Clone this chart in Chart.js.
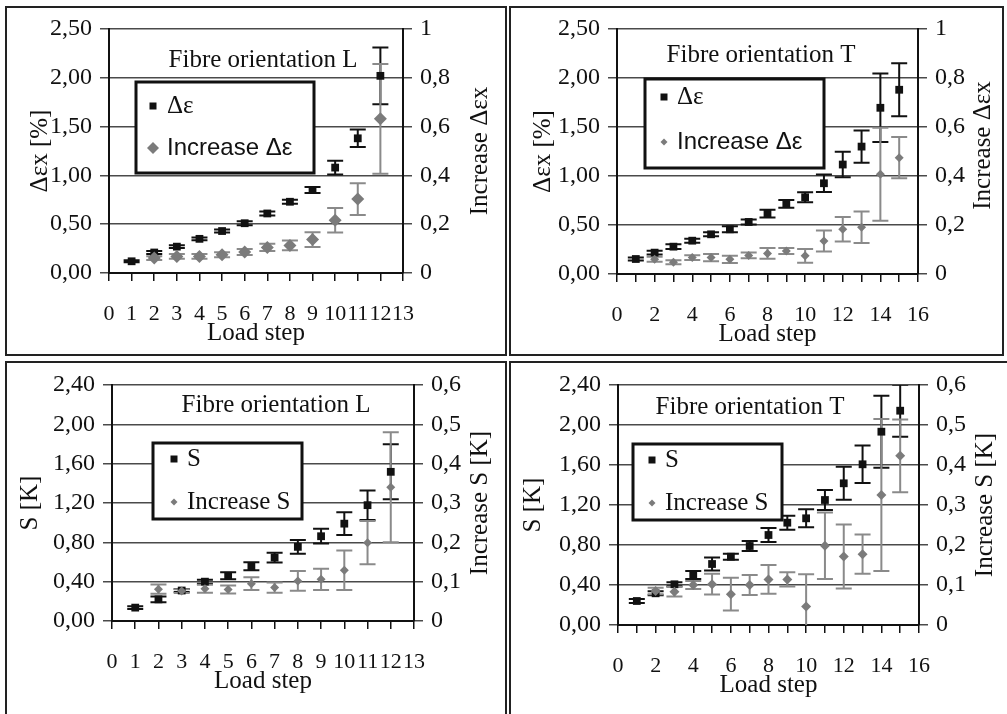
<!DOCTYPE html>
<html>
<head>
<meta charset="utf-8">
<script src="https://cdn.jsdelivr.net/npm/chart.js@4.4.1/dist/chart.umd.min.js"></script>
<style>
  body { margin: 0; background: #fff; width: 1007px; height: 714px; overflow: hidden; position: relative; }
  .frame { position: absolute; border: 2px solid #222; box-sizing: border-box; }
  canvas { position: absolute; }
</style>
</head>
<body>
<div class="frame" style="left:5px;top:6px;width:502px;height:350px"></div>
<div class="frame" style="left:509px;top:6px;width:495px;height:350px"></div>
<div class="frame" style="left:5px;top:361px;width:502px;height:400px"></div>
<div class="frame" style="left:509px;top:361px;width:600px;height:400px"></div>
<canvas id="c1" width="505" height="358" style="left:0;top:0"></canvas>
<canvas id="c2" width="502" height="358" style="left:505px;top:0"></canvas>
<canvas id="c3" width="505" height="356" style="left:0;top:358px"></canvas>
<canvas id="c4" width="502" height="356" style="left:505px;top:358px"></canvas>
<script>
// load steps
const stepsL = [1, 2, 3, 4, 5, 6, 7, 8, 9, 10, 11, 12];
const stepsT = [1, 2, 3, 4, 5, 6, 7, 8, 9, 10, 11, 12, 13, 14, 15];
const incStepsL = [2, 3, 4, 5, 6, 7, 8, 9, 10, 11, 12];
const incStepsT = [2, 3, 4, 5, 6, 7, 8, 9, 10, 11, 12, 13, 14, 15];

// delta eps x, fibre L
const dEpsL    = [0.12, 0.21, 0.27, 0.35, 0.43, 0.51, 0.61, 0.73, 0.85, 1.08, 1.38, 2.02];
const dEpsLErr = [0.01, 0.015, 0.015, 0.015, 0.015, 0.02, 0.02, 0.02, 0.03, 0.07, 0.09, 0.29];
const incDEpsL    = [0.061, 0.068, 0.068, 0.075, 0.086, 0.105, 0.113, 0.137, 0.216, 0.303, 0.632];
const incDEpsLErr = [0.008, 0.01, 0.01, 0.01, 0.012, 0.015, 0.02, 0.03, 0.05, 0.065, 0.225];

// delta eps x, fibre T
const dEpsT    = [0.153, 0.218, 0.279, 0.34, 0.405, 0.456, 0.531, 0.616, 0.715, 0.783, 0.926, 1.117, 1.30, 1.696, 1.88];
const dEpsTErr = [0.015, 0.02, 0.025, 0.02, 0.02, 0.03, 0.025, 0.04, 0.04, 0.05, 0.09, 0.13, 0.165, 0.35, 0.27];
const incDEpsT    = [0.06, 0.048, 0.067, 0.067, 0.06, 0.076, 0.084, 0.094, 0.074, 0.135, 0.183, 0.191, 0.407, 0.475];
const incDEpsTErr = [0.01, 0.008, 0.01, 0.015, 0.015, 0.012, 0.022, 0.012, 0.028, 0.043, 0.05, 0.064, 0.19, 0.084];

// S, fibre L
const sL    = [0.136, 0.22, 0.31, 0.40, 0.46, 0.557, 0.645, 0.754, 0.862, 0.99, 1.178, 1.517];
const sLErr = [0.015, 0.03, 0.015, 0.02, 0.035, 0.04, 0.05, 0.07, 0.075, 0.115, 0.15, 0.28];
const incSL    = [0.081, 0.076, 0.082, 0.08, 0.095, 0.085, 0.102, 0.106, 0.129, 0.199, 0.34];
const incSLErr = [0.012, 0.005, 0.01, 0.01, 0.016, 0.013, 0.025, 0.027, 0.05, 0.055, 0.14];

// S, fibre T
const sT    = [0.24, 0.317, 0.407, 0.50, 0.61, 0.683, 0.79, 0.90, 1.023, 1.067, 1.25, 1.417, 1.607, 1.933, 2.143];
const sTErr = [0.02, 0.02, 0.02, 0.04, 0.065, 0.03, 0.05, 0.07, 0.07, 0.09, 0.10, 0.165, 0.187, 0.36, 0.26];
const incST    = [0.085, 0.083, 0.10, 0.102, 0.077, 0.10, 0.114, 0.114, 0.046, 0.198, 0.171, 0.177, 0.325, 0.423];
const incSTErr = [0.008, 0.012, 0.01, 0.026, 0.041, 0.025, 0.036, 0.018, 0.081, 0.083, 0.08, 0.049, 0.19, 0.091];

const SERIF = "'Liberation Serif', 'Times New Roman', serif";
const SANS = "'Liberation Sans', Arial, sans-serif";
const BLACK = '#111';
const GRAY = '#7b7b7b';

function pts(xs, ys) {
  return xs.map((x, i) => ({ x: x, y: ys[i] }));
}

function blackSet(label, xs, ys, err, font) {
  return {
    label: label, data: pts(xs, ys), err: err, yAxisID: 'y', order: 1,
    pointStyle: 'rect', pointRadius: 5.5, borderWidth: 0,
    backgroundColor: BLACK, borderColor: BLACK, errColor: BLACK,
    legendFont: font, legendSize: 3.5
  };
}

function graySet(label, xs, ys, err, font, r, lr) {
  return {
    label: label, data: pts(xs, ys), err: err, yAxisID: 'y2', order: 0,
    pointStyle: 'rectRot', pointRadius: r, borderWidth: 0,
    backgroundColor: GRAY, borderColor: GRAY, errColor: '#8a8a8a',
    legendFont: font, legendSize: lr
  };
}

// draws the error bars
const errorBars = {
  id: 'errorBars',
  beforeDatasetsDraw(chart) {
    const ctx = chart.ctx, a = chart.chartArea;
    ctx.save();
    ctx.beginPath();
    ctx.rect(a.left, a.top, a.right - a.left, a.bottom - a.top);
    ctx.clip();
    chart.data.datasets.forEach((ds, i) => {
      const meta = chart.getDatasetMeta(i);
      const ys = chart.scales[ds.yAxisID];
      ctx.strokeStyle = ds.errColor;
      ctx.lineWidth = 2;
      meta.data.forEach((p, j) => {
        const v = ds.data[j].y, e = ds.err[j];
        const y1 = ys.getPixelForValue(v + e), y2 = ys.getPixelForValue(v - e);
        const w = 8;
        ctx.beginPath();
        ctx.moveTo(p.x, y1); ctx.lineTo(p.x, y2);
        ctx.moveTo(p.x - w, y1); ctx.lineTo(p.x + w, y1);
        ctx.moveTo(p.x - w, y2); ctx.lineTo(p.x + w, y2);
        ctx.stroke();
      });
    });
    ctx.restore();
  }
};

// titles, axis titles and the boxed legend
const decor = {
  id: 'decor',
  afterDraw(chart, args, o) {
    const ctx = chart.ctx, a = chart.chartArea;
    const midY = (a.top + a.bottom) / 2;
    ctx.save();
    ctx.fillStyle = BLACK;
    ctx.textAlign = 'center';
    ctx.textBaseline = 'middle';
    ctx.font = '25px ' + SERIF;
    ctx.fillText(o.title, a.left + o.titleX, a.top + o.titleY);
    ctx.fillText('Load step', (a.left + a.right) / 2, a.bottom + 60);

    ctx.save();
    ctx.translate(a.left + o.yTitleX, midY);
    ctx.rotate(-Math.PI / 2);
    ctx.fillText(o.yTitle, 0, 0);
    ctx.restore();
    ctx.save();
    ctx.translate(a.right + o.y2TitleX, midY + (o.y2TitleDy || 0));
    ctx.rotate(-Math.PI / 2);
    ctx.fillText(o.y2Title, 0, 0);
    ctx.restore();

    const L = o.legend;
    ctx.fillStyle = '#fff';
    ctx.fillRect(a.left + L.x, a.top + L.y, L.w, L.h);
    ctx.lineWidth = 3;
    ctx.strokeStyle = BLACK;
    ctx.strokeRect(a.left + L.x, a.top + L.y, L.w, L.h);
    chart.data.datasets.forEach((ds, i) => {
      const cx = a.left + L.mx, cy = a.top + L.rows[i], s = ds.legendSize;
      ctx.fillStyle = ds.backgroundColor;
      ctx.beginPath();
      if (ds.pointStyle === 'rect') {
        ctx.rect(cx - s, cy - s, 2 * s, 2 * s);
      } else {
        ctx.moveTo(cx, cy - s); ctx.lineTo(cx + s, cy);
        ctx.lineTo(cx, cy + s); ctx.lineTo(cx - s, cy);
        ctx.closePath();
      }
      ctx.fill();
      ctx.fillStyle = BLACK;
      ctx.textAlign = 'left';
      ctx.font = ds.legendFont;
      ctx.fillText(ds.label, a.left + L.tx, cy);
    });
    ctx.restore();
  }
};

function fmtLeft(v) { return v.toFixed(2).replace('.', ','); }
function fmtRight(v) { return v === 0 ? '0' : String(+v.toFixed(2)).replace('.', ','); }

const panels = [
  {
    id: 'c1', xMax: 13, xEvery: 1, yMax: 2.5, yStep: 0.5, y2Max: 1, y2Step: 0.2,
    pad: { left: 49, right: 42, top: 29, bottom: 25 },
    deco: {
      title: 'Fibre orientation L', titleX: 154, titleY: 31,
      yTitle: 'Δεx [%]', yTitleX: -69, y2Title: 'Increase Δεx', y2TitleX: 77,
      legend: { x: 27, y: 53, w: 178, h: 91, mx: 44, tx: 58, rows: [77, 119] }
    },
    sets: [
      blackSet('Δε', stepsL, dEpsL, dEpsLErr, '25px ' + SERIF),
      graySet('Increase Δε', incStepsL, incDEpsL, incDEpsLErr, '24px ' + SANS, 6.5, 6)
    ]
  },
  {
    id: 'c2', xMax: 16, xEvery: 2, yMax: 2.5, yStep: 0.5, y2Max: 1, y2Step: 0.2,
    pad: { left: 52, right: 29, top: 29, bottom: 24 },
    deco: {
      title: 'Fibre orientation T', titleX: 144, titleY: 26,
      yTitle: 'Δεx [%]', yTitleX: -74, y2Title: 'Increase Δεx', y2TitleX: 65, y2TitleDy: -6,
      legend: { x: 28, y: 50, w: 179, h: 89, mx: 47, tx: 60, rows: [68, 113] }
    },
    sets: [
      blackSet('Δε', stepsT, dEpsT, dEpsTErr, '25px ' + SERIF),
      graySet('Increase Δε', incStepsT, incDEpsT, incDEpsTErr, '24px ' + SANS, 4.5, 3.5)
    ]
  },
  {
    id: 'c3', xMax: 13, xEvery: 1, yMax: 2.4, yStep: 0.4, y2Max: 0.6, y2Step: 0.1,
    pad: { left: 52, right: 31, top: 27, bottom: 33 },
    deco: {
      title: 'Fibre orientation L', titleX: 164, titleY: 20,
      yTitle: 'S [K]', yTitleX: -82, y2Title: 'Increase S [K]', y2TitleX: 66,
      legend: { x: 41, y: 58, w: 149, h: 76, mx: 62, tx: 75, rows: [74, 117] }
    },
    sets: [
      blackSet('S', stepsL, sL, sLErr, '25px ' + SERIF),
      graySet('Increase S', incStepsL, incSL, incSLErr, '25px ' + SERIF, 4.5, 3.5)
    ]
  },
  {
    id: 'c4', xMax: 16, xEvery: 2, yMax: 2.4, yStep: 0.4, y2Max: 0.6, y2Step: 0.1,
    pad: { left: 53, right: 28, top: 27, bottom: 29 },
    deco: {
      title: 'Fibre orientation T', titleX: 132, titleY: 22,
      yTitle: 'S [K]', yTitleX: -85, y2Title: 'Increase S [K]', y2TitleX: 66,
      legend: { x: 15, y: 59, w: 149, h: 76, mx: 34, tx: 47, rows: [75, 118] }
    },
    sets: [
      blackSet('S', stepsT, sT, sTErr, '25px ' + SERIF),
      graySet('Increase S', incStepsT, incST, incSTErr, '25px ' + SERIF, 5, 3.5)
    ]
  }
];

panels.forEach(p => {
  new Chart(document.getElementById(p.id), {
    type: 'scatter',
    data: { datasets: p.sets },
    options: {
      responsive: false,
      animation: false,
      layout: { padding: p.pad },
      plugins: {
        legend: { display: false },
        tooltip: { enabled: false },
        decor: p.deco
      },
      scales: {
        x: {
          type: 'linear', min: 0, max: p.xMax,
          afterFit: s => { s.height = 60; s.paddingLeft = 0; s.paddingRight = 0; },
          ticks: {
            stepSize: 1, autoSkip: false, maxRotation: 0, minRotation: 0, padding: 20,
            color: BLACK, font: { family: SERIF, size: 22 },
            callback: v => (v % p.xEvery === 0 ? String(v) : '')
          },
          grid: { drawOnChartArea: false, color: BLACK, lineWidth: 1.5, tickLength: 8 },
          border: { color: BLACK, width: 2 }
        },
        y: {
          type: 'linear', position: 'left', min: 0, max: p.yMax,
          afterFit: s => { s.width = 60; s.paddingTop = 0; s.paddingBottom = 0; },
          ticks: {
            stepSize: p.yStep, padding: 8, color: BLACK,
            font: { family: SERIF, size: 24 },
            callback: v => fmtLeft(v)
          },
          grid: { color: '#4a4a4a', lineWidth: 1.5, tickLength: 9 },
          border: { color: BLACK, width: 2 }
        },
        y2: {
          type: 'linear', position: 'right', min: 0, max: p.y2Max,
          afterFit: s => { s.width = 60; s.paddingTop = 0; s.paddingBottom = 0; },
          ticks: {
            stepSize: p.y2Step, padding: 8, color: BLACK,
            font: { family: SERIF, size: 24 },
            callback: v => fmtRight(v)
          },
          grid: { drawOnChartArea: false, color: '#4a4a4a', lineWidth: 1.5, tickLength: 9 },
          border: { color: BLACK, width: 2 }
        }
      }
    },
    plugins: [errorBars, decor]
  });
});
</script>
</body>
</html>
